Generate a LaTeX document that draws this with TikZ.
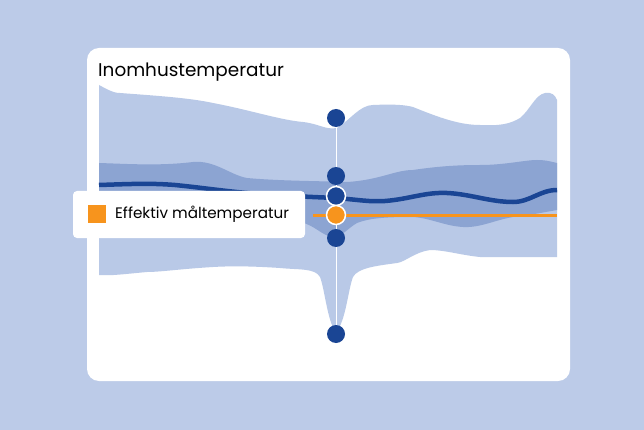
\documentclass[tikz,border=0pt]{standalone}
\usepackage{fontspec}
\setmainfont{Poppins}
\begin{document}
\begin{tikzpicture}[x=1pt,y=-1pt]
\definecolor{bg}{HTML}{BCCBE8}
\definecolor{band}{HTML}{B9C9E7}
\definecolor{midband}{HTML}{8CA4D2}
\definecolor{dark}{HTML}{1A4594}
\definecolor{orng}{HTML}{F7941D}
\tikzset{dot/.style={circle,fill=dark,minimum size=18pt,inner sep=0pt},
 rdot/.style={circle,fill=dark,draw=white,line width=1.5pt,minimum size=19pt,inner sep=0pt},
 odot/.style={circle,fill=orng,draw=white,line width=1.5pt,minimum size=19pt,inner sep=0pt}}
\fill[bg] (0,0) rectangle (644,430);
\useasboundingbox (0,0) rectangle (644,430);
\fill[white,rounded corners=12pt] (87,48) rectangle (570,381);
\node[anchor=west,font=\fontsize{18.4}{21}\selectfont,inner sep=0pt] (title) at (98,72) {Inomhustemperatur};
% outer band
\fill[band] (99,85) .. controls (105,88) and (112,93) .. (120,93)
 .. controls (160,96) and (190,98) .. (213,103)
 .. controls (250,110) and (280,120) .. (303,122)
 .. controls (320,124) and (325,130) .. (337,128)
 .. controls (350,120) and (360,105) .. (373,105)
 .. controls (395,104) and (405,105) .. (413,107)
 .. controls (440,118) and (460,125) .. (480,125)
 .. controls (500,126) and (510,124) .. (520,118)
 .. controls (530,110) and (535,95) .. (545,93)
 .. controls (552,92) and (555,95) .. (557,100)
 -- (557,257)
 .. controls (520,257) and (500,257) .. (480,257)
 .. controls (460,255) and (445,250) .. (430,250)
 .. controls (415,252) and (405,262) .. (397,263)
 .. controls (375,266) and (358,268) .. (353,277)
 .. controls (348,290) and (346,320) .. (336,333)
 .. controls (327,320) and (325,290) .. (320,277)
 .. controls (315,268) and (300,270) .. (280,268)
 .. controls (250,266) and (230,266) .. (213,267)
 .. controls (180,269) and (160,272) .. (147,272)
 .. controls (125,274) and (110,276) .. (99,275) -- cycle;
% mid band
\fill[midband] (99,163) .. controls (130,164) and (160,166) .. (193,162)
 .. controls (215,160) and (230,175) .. (247,178)
 .. controls (280,181) and (320,181) .. (347,182)
 .. controls (380,180) and (395,170) .. (413,170)
 .. controls (440,166) and (460,165) .. (480,165)
 .. controls (505,165) and (525,160) .. (537,160)
 .. controls (547,160) and (552,162) .. (557,163)
 -- (557,210)
 .. controls (540,213) and (525,216) .. (513,217)
 .. controls (495,220) and (480,228) .. (463,227)
 .. controls (445,226) and (430,218) .. (413,217)
 .. controls (385,217) and (370,218) .. (357,223)
 .. controls (348,228) and (342,237) .. (333,237)
 .. controls (322,236) and (315,225) .. (300,222)
 -- (99,222) -- cycle;
% vertical line
\draw[white,line width=1pt] (336,80) -- (336,335);
% dark line
\draw[dark,line width=4.5pt] (99,185) .. controls (130,184) and (150,183) .. (175,185)
 .. controls (205,188) and (230,192) .. (260,194)
 .. controls (290,196) and (310,197) .. (337,198)
 .. controls (360,200) and (370,202) .. (385,201)
 .. controls (410,199) and (425,192) .. (447,193)
 .. controls (470,194) and (490,202) .. (513,202)
 .. controls (530,202) and (540,190) .. (557,190);
% orange line
\draw[orng,line width=3pt] (313,215) -- (557,215);
% dots
\node[dot] (d1) at (336,118) {};
\node[dot] (d2) at (336,176) {};
\node[rdot] (d3) at (336,196) {};
\node[dot] (d5) at (336,238) {};
\node[dot] (d6) at (336,334) {};
\node[odot] (d4) at (336,215) {};
% label
\fill[white,rounded corners=4pt] (73,191) rectangle (305,238);
\fill[orng] (88,205) rectangle (106,223);
\node[anchor=west,font=\fontsize{15.2}{17}\selectfont,inner sep=0pt] (lab) at (115,214.5) {Effektiv måltemperatur};
\end{tikzpicture}
\end{document}
